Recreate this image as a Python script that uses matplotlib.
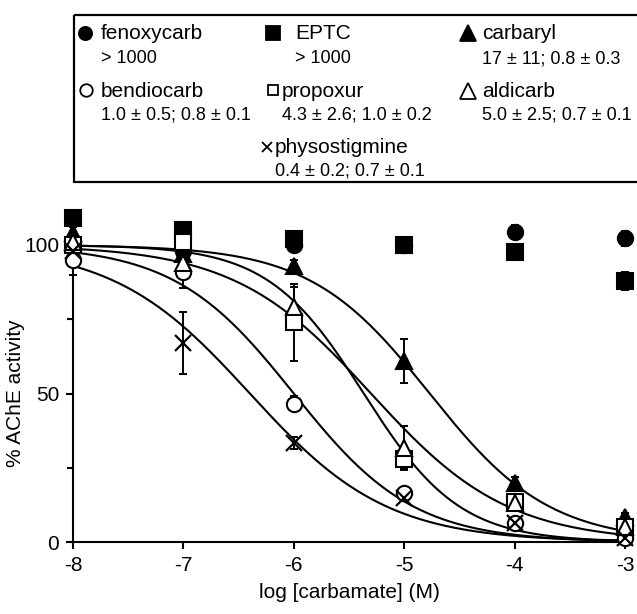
import numpy as np
import matplotlib
matplotlib.use("Agg")
import matplotlib.pyplot as plt
from matplotlib.patches import Rectangle

plt.rcParams['font.family'] = ['Liberation Sans', 'DejaVu Sans']
plt.rcParams['axes.unicode_minus'] = False

# ---------------- data ----------------
log_conc = [-8, -7, -6, -5, -4, -3]

compounds = ["fenoxycarb", "EPTC", "carbaryl", "bendiocarb", "propoxur", "aldicarb", "physostigmine"]

fenoxycarb_mean = [101, 98, 100, 100, 104.4, 102.3]
fenoxycarb_err = [2, 2, 2, 2, 2.5, 2.5]
eptc_mean = [109, 105, 102, 100, 97.6, 88]
eptc_err = [2, 2.5, 2, 2.5, 1, 3]
carbaryl_mean = [104, 97, 93, 61, 20, 8.4]
carbaryl_err = [2, 2, 2, 7.5, 2, 1.5]
bendiocarb_mean = [95, 91, 46.5, 16.5, 6.3, 1.5]
bendiocarb_err = [5, 5.5, 2.5, 1, 1, 0.5]
propoxur_mean = [100, 101, 74, 28, 13.5, 5]
propoxur_err = [2, 2, 13, 3, 1.5, 1]
aldicarb_mean = [101, 94, 79, 31.6, 13, 5]
aldicarb_err = [2, 2.5, 7, 7.5, 1.5, 1]
physostigmine_mean = [98, 67, 33.3, 14.8, 6.3, 1.3]
physostigmine_err = [2, 10.5, 2, 1, 1, 0.5]

# fitted parameters shown in the legend: IC50 (uM) and Hill slope
ic50_um = [None, None, 17, 1.0, 4.3, 5.0, 0.4]
ic50_err = [None, None, 11, 0.5, 2.6, 2.5, 0.2]
hill_n = [None, None, 0.8, 0.8, 1.0, 0.7, 0.7]
hill_err = [None, None, 0.3, 0.1, 0.2, 0.1, 0.1]

means = [fenoxycarb_mean, eptc_mean, carbaryl_mean, bendiocarb_mean,
         propoxur_mean, aldicarb_mean, physostigmine_mean]
errs = [fenoxycarb_err, eptc_err, carbaryl_err, bendiocarb_err,
        propoxur_err, aldicarb_err, physostigmine_err]

# ---------------- styles ----------------
markers = ['o', 's', '^', 'o', 's', '^', 'x']
filled = [True, True, True, False, False, False, True]
msizes = [11, 11.5, 12, 11, 11.5, 12, 11]
leg_msizes = [9.5, 10.5, 11, 9, 7.5, 11, 7.5]

fig = plt.figure(figsize=(6.37, 6.14), dpi=100)
W, H = 637, 614
ax = fig.add_axes([73 / W, (H - 542) / H, (625 - 73) / W, (542 - 245) / H])

# fitted curves
xs = np.linspace(-8, -3, 400)
for ic, n in zip(ic50_um, hill_n):
    if ic is None:
        continue
    lic = np.log10(ic * 1e-6)
    ax.plot(xs, 100 / (1 + 10 ** (n * (xs - lic))), color='black', lw=1.5,
            zorder=2, clip_on=False)

for i, name in enumerate(compounds):
    fc = 'black' if filled[i] else 'white'
    ax.errorbar(log_conc, means[i], yerr=errs[i], fmt='none', ecolor='black',
                elinewidth=1.4, capsize=3, capthick=1.4, zorder=3 + i * 0.1,
                clip_on=False)
    ax.plot(log_conc, means[i], linestyle='none', marker=markers[i],
            markersize=msizes[i], markerfacecolor=fc, markeredgecolor='black',
            markeredgewidth=1.5 if markers[i] != 'x' else 1.6,
            zorder=4 + i * 0.1, clip_on=False)

ax.set_xlim(-8, -3)
ax.set_ylim(0, 100)
ax.set_xticks(log_conc)
ax.set_xticklabels([str(v) for v in log_conc])
ax.set_yticks([0, 50, 100])
ax.set_yticks([25, 75], minor=True)
for s in ['top', 'right']:
    ax.spines[s].set_visible(False)
for s in ['left', 'bottom']:
    ax.spines[s].set_linewidth(1.5)
ax.tick_params(axis='both', which='major', direction='out', length=5, width=1.5,
               labelsize=15, pad=5)
ax.tick_params(axis='y', which='minor', direction='out', length=4, width=1.5)
ax.set_xlabel("log [carbamate] (M)", fontsize=15, labelpad=6)
ax.set_ylabel("% AChE activity", fontsize=15)
ax.yaxis.set_label_coords((25 - 73) / 552, 0.5)
ax.patch.set_alpha(0)

# ---------------- legend box (pixel coordinates) ----------------
lax = fig.add_axes([0, 0, 1, 1], zorder=-1)
lax.set_xlim(0, W)
lax.set_ylim(H, 0)
lax.axis('off')
lax.add_patch(Rectangle((73.5, 15), 700, 167, fill=False, lw=1.6,
                        edgecolor='black', clip_on=False))


def fmt_num(v, ref):
    return f"{v:.1f}" if ref < 10 else f"{v:.0f}"


def sub_text(i):
    if ic50_um[i] is None:
        return "> 1000"
    return (fmt_num(ic50_um[i], ic50_um[i]) + " \u00b1 " + fmt_num(ic50_err[i], ic50_um[i])
            + "; " + f"{hill_n[i]:.1f} \u00b1 {hill_err[i]:.1f}")


# (marker x, marker y, text x, name baseline, sub baseline)
leg_pos = {
    0: (85, 33, 101, 39, 63),
    1: (273, 33, 295, 39, 63),
    2: (468, 33, 482, 39, 63),
    3: (86, 90, 101, 97, 119),
    4: (273, 90, 282, 97, 119),
    5: (468, 91, 482, 97, 119),
    6: (267, 147, 275, 153, 176),
}
for i, name in enumerate(compounds):
    mx, my, tx, yb1, yb2 = leg_pos[i]
    fc = 'black' if filled[i] else 'white'
    lax.plot([mx], [my], marker=markers[i], markersize=leg_msizes[i],
             markerfacecolor=fc, markeredgecolor='black',
             markeredgewidth=1.3, linestyle='none', clip_on=False)
    lax.text(tx, yb1, name, fontsize=15, ha='left', va='baseline')
    lax.text(tx, yb2, sub_text(i), fontsize=13, ha='left', va='baseline')

fig.savefig("out.png", dpi=100)
